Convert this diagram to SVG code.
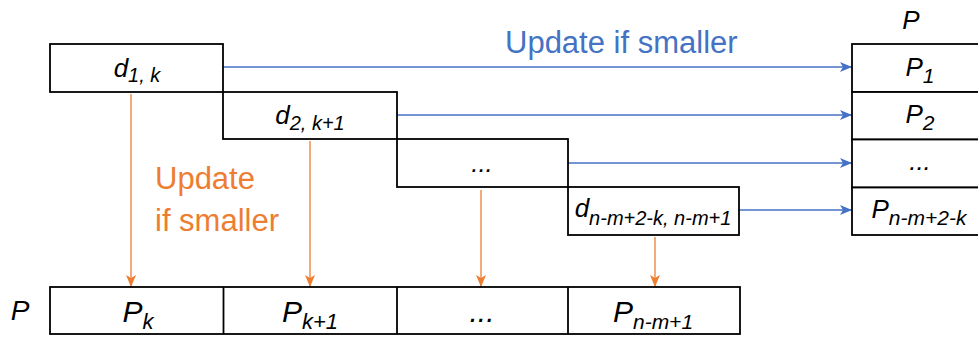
<svg xmlns="http://www.w3.org/2000/svg" width="978" height="337" viewBox="0 0 978 337">
  <style>
    .box { fill: #ffffff; stroke: #000000; stroke-width: 1.8; }
    .lbl { font-family: "Liberation Sans", Arial, sans-serif; font-style: italic; fill: #000000; text-anchor: middle; }
    .blue { stroke: #4472C4; stroke-width: 1.3; fill: none; }
    .orange { stroke: #ED7D31; stroke-width: 1.3; fill: none; }
    .note { font-family: "Liberation Sans", Arial, sans-serif; font-size: 31px; }
  </style>
  <defs>
    <marker id="headBlue" markerUnits="userSpaceOnUse" markerWidth="13" markerHeight="11" refX="12" refY="5" orient="auto" viewBox="0 0 13 11">
      <path d="M0,0 L12,5 L0,10 L3,5 z" fill="#4472C4"/>
    </marker>
    <marker id="headOrange" markerUnits="userSpaceOnUse" markerWidth="13" markerHeight="11" refX="12" refY="5" orient="auto" viewBox="0 0 13 11">
      <path d="M0,0 L12,5 L0,10 L3,5 z" fill="#ED7D31"/>
    </marker>
  </defs>

  <!-- connectors -->
  <g id="connectors">
    <line class="blue" x1="223" y1="67" x2="852" y2="67" marker-end="url(#headBlue)"/>
    <line class="blue" x1="397" y1="115" x2="852" y2="115" marker-end="url(#headBlue)"/>
    <line class="blue" x1="568" y1="163" x2="852" y2="163" marker-end="url(#headBlue)"/>
    <line class="blue" x1="739" y1="210" x2="852" y2="210" marker-end="url(#headBlue)"/>
    <line class="orange" x1="131" y1="94" x2="131" y2="287" marker-end="url(#headOrange)"/>
    <line class="orange" x1="310" y1="141" x2="310" y2="287" marker-end="url(#headOrange)"/>
    <line class="orange" x1="481" y1="190" x2="481" y2="287" marker-end="url(#headOrange)"/>
    <line class="orange" x1="655" y1="237" x2="655" y2="287" marker-end="url(#headOrange)"/>
  </g>

  <!-- update labels -->
  <text class="note" x="505" y="53" fill="#4472C4">Update if smaller</text>
  <text class="note" x="155" y="189" fill="#ED7D31">Update</text>
  <text class="note" x="155" y="231" fill="#ED7D31">if smaller</text>

  <!-- staircase of distances -->
  <g id="d1">
    <rect class="box" x="50" y="44" width="173" height="48"/>
    <text class="lbl" x="137" y="77" font-size="26">d<tspan font-size="20" dy="5">1, k</tspan></text>
  </g>
  <g id="d2">
    <rect class="box" x="223" y="92" width="174" height="47"/>
    <text class="lbl" x="310" y="124" font-size="26">d<tspan font-size="20" dy="6">2, k+1</tspan></text>
  </g>
  <g id="d3">
    <rect class="box" x="397" y="139" width="171" height="48"/>
    <text class="lbl" x="482" y="172" font-size="26">...</text>
  </g>
  <g id="d4">
    <rect class="box" x="568" y="187" width="171" height="48"/>
    <text class="lbl" x="653" y="217" font-size="26">d<tspan font-size="20" dy="8">n-m+2-k, n-m+1</tspan></text>
  </g>

  <!-- right column P -->
  <g id="pcol">
    <text class="lbl" x="911" y="29" font-size="26">P</text>
    <rect class="box" x="852" y="44" width="140" height="48"/>
    <rect class="box" x="852" y="92" width="140" height="47.5"/>
    <rect class="box" x="852" y="139.5" width="140" height="48"/>
    <rect class="box" x="852" y="187.5" width="140" height="47.5"/>
    <text class="lbl" x="920" y="76" font-size="26">P<tspan font-size="21" dy="7">1</tspan></text>
    <text class="lbl" x="920" y="123" font-size="26">P<tspan font-size="21" dy="7">2</tspan></text>
    <text class="lbl" x="920" y="170" font-size="26">...</text>
    <text class="lbl" x="919" y="218" font-size="26">P<tspan font-size="21" dy="7">n-m+2-k</tspan></text>
  </g>

  <!-- bottom row P -->
  <g id="prow">
    <text class="lbl" x="20" y="320" font-size="28">P</text>
    <rect class="box" x="50" y="287" width="690" height="47"/>
    <line x1="223.5" y1="287" x2="223.5" y2="334" stroke="#000000" stroke-width="1.8"/>
    <line x1="397" y1="287" x2="397" y2="334" stroke="#000000" stroke-width="1.8"/>
    <line x1="568" y1="287" x2="568" y2="334" stroke="#000000" stroke-width="1.8"/>
    <text class="lbl" x="138" y="322" font-size="30">P<tspan font-size="22" dy="7">k</tspan></text>
    <text class="lbl" x="310" y="322" font-size="30">P<tspan font-size="22" dy="7">k+1</tspan></text>
    <text class="lbl" x="482" y="322" font-size="30">...</text>
    <text class="lbl" x="653" y="322" font-size="30">P<tspan font-size="21" dy="7">n-m+1</tspan></text>
  </g>
</svg>
